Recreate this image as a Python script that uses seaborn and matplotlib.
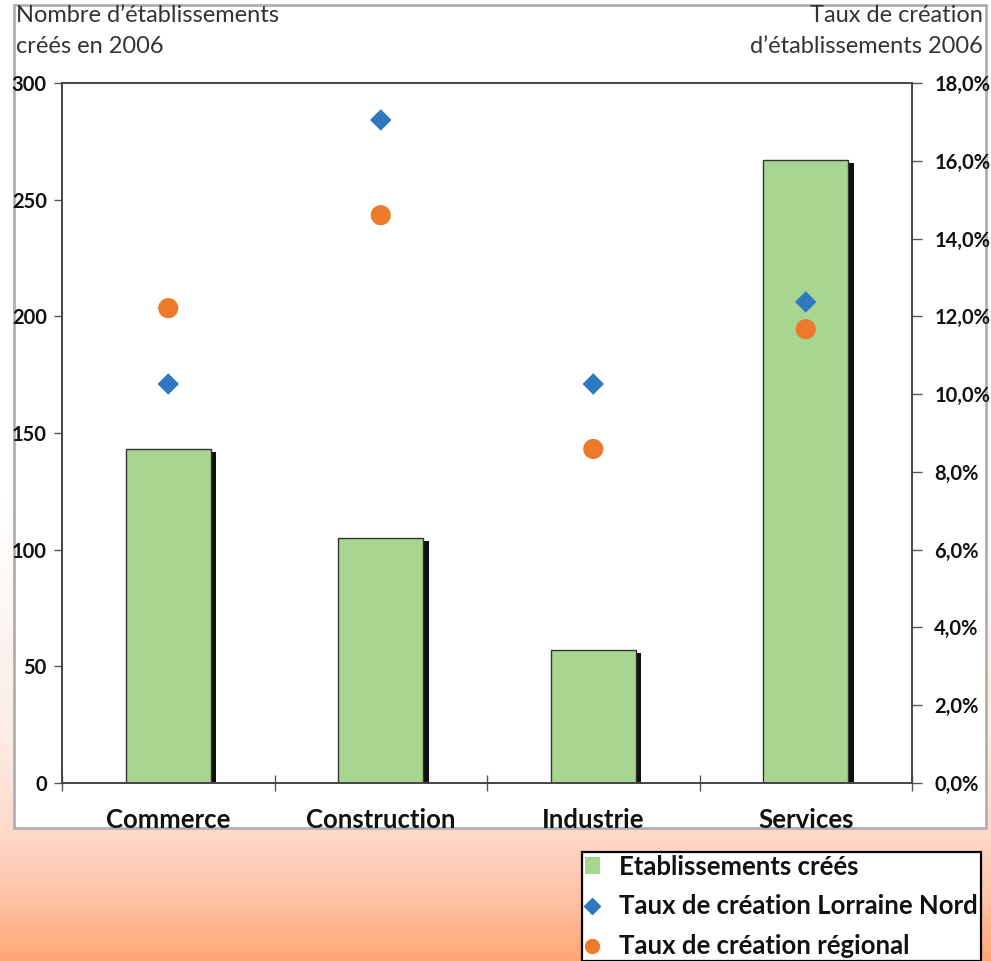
import matplotlib
matplotlib.use("Agg")
import matplotlib.pyplot as plt
import matplotlib.patches as mpatches
import matplotlib.patheffects as pe
from matplotlib.lines import Line2D
import numpy as np
import pandas as pd
import seaborn as sns

categories = ["Commerce", "Construction", "Industrie", "Services"]
etablissements = [143, 105, 57, 267]
taux_lorraine_nord = [0.1026, 0.1705, 0.1026, 0.1237]
taux_regional = [0.1221, 0.1460, 0.0859, 0.1167]
left_ticks = [0, 50, 100, 150, 200, 250, 300]
right_ticks = [0.0, 0.02, 0.04, 0.06, 0.08, 0.10, 0.12, 0.14, 0.16, 0.18]

GREEN = "#a8d590"
BLUE = "#2e78c0"
ORANGE = "#ec7a2a"
FONT = ["Lato", "DejaVu Sans"]

sns.set_theme(style="white")
plt.rcParams["font.family"] = FONT

df = pd.DataFrame({"cat": categories, "n": etablissements,
                   "nord": taux_lorraine_nord, "reg": taux_regional})

fig = plt.figure(figsize=(9.91, 9.61), dpi=100)

# background gradient (white -> peach)
bg = fig.add_axes([0, 0, 1, 1], zorder=-10)
ys = np.linspace(0, 961, 400)
stops_y = [0, 500, 740, 830, 900, 961]
stops_c = np.array([[255, 255, 255], [255, 255, 255], [252, 236, 228],
                    [254, 218, 204], [255, 194, 166], [255, 166, 118]]) / 255
grad = np.stack([np.interp(ys, stops_y, stops_c[:, i]) for i in range(3)], axis=1)
bg.imshow(grad[:, None, :], aspect="auto", extent=[0, 1, 0, 1])
bg.axis("off")

# white panel
fig.patches.append(mpatches.Rectangle((14 / 991, 1 - 828 / 961), 972 / 991, 823 / 961,
                                      transform=fig.transFigure, facecolor="white",
                                      edgecolor="#b0b0b0", linewidth=2, zorder=-5))

ax = fig.add_axes([62 / 991, 1 - 783 / 961, 850 / 991, 700 / 961])
ax.set_facecolor("none")
sns.barplot(data=df, x="cat", y="n", color=GREEN, width=0.4, saturation=1,
            edgecolor="#333333", linewidth=1, ax=ax, zorder=2)
for bar in ax.patches:
    bar.set_path_effects([pe.SimplePatchShadow(offset=(4, -2), shadow_rgbFace="#111111", alpha=1),
                          pe.Normal()])

ax.set_ylim(0, 300)
ax.set_xlim(-0.5, len(categories) - 0.5)
ax.set_yticks(left_ticks)
ax.set_yticklabels([str(t) for t in left_ticks], fontsize=14.5, fontweight="bold")
ax.set_xticks(range(len(categories)))
ax.set_xticklabels(categories, fontsize=18.5, fontweight="bold")
ax.set_xticks(np.arange(-0.5, len(categories), 1.0), minor=True)
ax.tick_params(axis="x", which="major", bottom=True, length=0, pad=18, colors="#111111")
ax.tick_params(axis="x", which="minor", bottom=True, length=12, direction="inout",
               width=1, color="#555555")
ax.tick_params(axis="y", left=True, length=6, width=1, color="#555555", pad=5, labelcolor="#111111")
ax.set_xlabel("")
ax.set_ylabel("")
for s in ax.spines.values():
    s.set_color("#444444")
    s.set_linewidth(1.2)

ax2 = ax.twinx()
sns.scatterplot(x=np.arange(len(categories)), y=df["nord"], marker="D", s=120,
                color=BLUE, edgecolor="none", ax=ax2, zorder=3)
sns.scatterplot(x=np.arange(len(categories)), y=df["reg"], marker="o", s=210,
                color=ORANGE, edgecolor="none", ax=ax2, zorder=3)
ax2.set_ylim(0, 0.18)
ax2.set_yticks(right_ticks)
ax2.set_yticklabels([f"{t * 100:.1f}%".replace(".", ",") for t in right_ticks],
                    fontsize=14.5, fontweight="bold")
ax2.tick_params(axis="y", right=True, length=7, width=1, color="#555555", pad=9, labelcolor="#111111")
ax2.set_ylabel("")
for s in ax2.spines.values():
    s.set_color("#444444")
    s.set_linewidth(1.2)

# axis titles
fig.text(16 / 991, 1 - 5 / 961, "Nombre d\u2019établissements\ncréés en 2006",
         ha="left", va="top", fontsize=17, color="#333333", linespacing=1.6)
fig.text(983 / 991, 1 - 5 / 961, "Taux de création\nd\u2019établissements 2006",
         ha="right", va="top", fontsize=17, color="#333333", linespacing=1.6,
         multialignment="right")

handles = [mpatches.Patch(facecolor=GREEN, edgecolor="none", label="Etablissements créés"),
           Line2D([], [], marker="D", linestyle="none", color=BLUE, markersize=8,
                  label="Taux de création Lorraine Nord"),
           Line2D([], [], marker="o", linestyle="none", color=ORANGE, markersize=10,
                  label="Taux de création régional")]
leg = fig.legend(handles=handles, loc="upper left", bbox_to_anchor=(582 / 991, 1 - 852 / 961),
                 frameon=True, fancybox=False, framealpha=1, edgecolor="black",
                 borderpad=0.1, handlelength=0.6, handleheight=0.6, handletextpad=0.75,
                 labelspacing=0.62, borderaxespad=0,
                 prop={"family": FONT, "weight": "bold", "size": 18.5})
leg.get_frame().set_linewidth(1.6)
for t in leg.get_texts():
    t.set_color("#111111")

fig.savefig("out.png", dpi=100)
